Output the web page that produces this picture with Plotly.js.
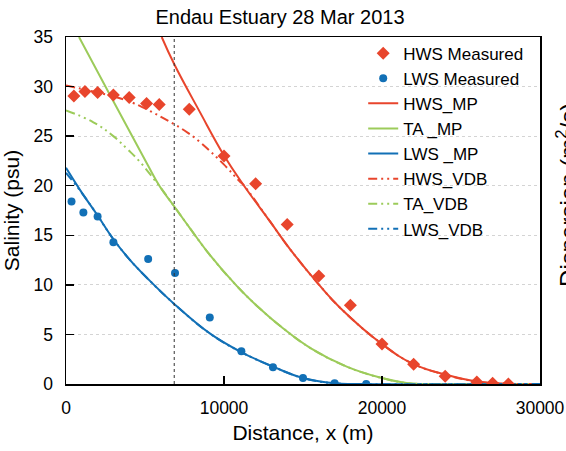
<!DOCTYPE html>
<html>
<head>
<meta charset="utf-8">
<script src="https://cdn.plot.ly/plotly-3.0.1.min.js"></script>
<style>html,body{margin:0;padding:0;background:#fff;}#chart{width:566px;height:451px;}</style>
</head>
<body>
<div id="chart"></div>
<script>
// ---- Data ----
const hwsMeasX = [500, 1200, 2000, 3000, 4000, 5100, 5900, 7800, 10000, 12000, 14000, 16000, 18000, 20000, 22000, 24000, 26000, 27000, 28000];
const hwsMeasY = [29.05, 29.5, 29.4, 29.15, 28.9, 28.3, 28.2, 27.7, 23.0, 20.2, 16.1, 10.9, 7.95, 4.03, 2.0, 0.77, 0.2, 0.07, 0.0];

const lwsMeasX = [350, 1100, 2000, 3000, 5200, 6900, 9100, 11100, 13100, 15000, 17000, 19000];
const lwsMeasY = [18.4, 17.3, 16.9, 14.3, 12.6, 11.2, 6.7, 3.3, 1.7, 0.6, 0.07, 0.0];

const hwsMpX = [6057, 6854, 8450, 10020, 11222, 12911, 14177, 16076, 17342, 20000, 22000, 24000, 26000, 28000, 30000];
const hwsMpY = [35, 32.25, 27.5, 23.0, 20.1, 16.4, 13.6, 9.9, 7.7, 4.03, 2.0, 0.95, 0.25, 0.02, 0];

const taMpX = [823, 2785, 5105, 5949, 6900, 7850, 9114, 10804, 12070, 13753, 15500, 17766, 19873, 21563, 23000, 30000];
const taMpY = [35, 29.15, 22.3, 19.9, 17.8, 15.7, 13.0, 9.9, 7.9, 5.6, 3.6, 1.75, 0.65, 0.1, 0, 0];

const lwsMpX = [0, 1000, 2000, 3000, 4000, 5250, 6900, 9100, 11050, 13100, 15000, 17000, 18500, 30000];
const lwsMpY = [21.8, 19.3, 17.0, 14.6, 12.6, 10.5, 8.0, 5.1, 3.25, 1.75, 0.6, 0.07, 0, 0];

const hwsVdbX = [0, 1730, 3840, 5105, 6854, 7741, 8481, 9956, 11013, 11222, 12911, 14177, 16076, 17342, 20000, 22000, 24000, 26000, 28000, 30000];
const hwsVdbY = [30.1, 29.5, 28.6, 27.7, 26.2, 25.3, 24.4, 22.2, 20.4, 20.1, 16.4, 13.6, 9.9, 7.7, 4.03, 2.0, 0.95, 0.25, 0.02, 0];

const taVdbX = [0, 1730, 2994, 3943, 4684, 5741, 5949, 6900, 7850, 9114, 10804, 12070, 13753, 15500, 17766, 19873, 21563, 23000, 30000];
const taVdbY = [27.6, 26.4, 25.0, 23.6, 22.4, 20.3, 19.9, 17.8, 15.7, 13.0, 9.9, 7.9, 5.6, 3.6, 1.75, 0.65, 0.1, 0, 0];

const lwsVdbX = [0, 800, 1700, 3000, 4000, 5250, 6900, 9100, 11050, 13100, 15000, 17000, 18500, 30000];
const lwsVdbY = [21.3, 19.7, 17.7, 14.6, 12.6, 10.5, 8.0, 5.1, 3.25, 1.75, 0.6, 0.07, 0, 0];

const markerLineX = 6850;   // vertical dashed reference line

const xTicks = [0, 10000, 20000, 30000];
const yTicks = [0, 5, 10, 15, 20, 25, 30, 35];

// ---- Styles ----
const RED = '#E8452C', GREEN = '#9CCB5A', BLUE = '#1270B6';
const FONT = 'Liberation Sans, Arial, Helvetica, sans-serif';
const DDD = '9px,4px,2px,4px,2px,4px';

function line(name, x, y, color, dash, rank) {
  return {x: x, y: y, name: name, type: 'scatter', mode: 'lines',
    line: {color: color, width: 2, dash: dash, shape: 'spline', smoothing: 1.2},
    legendrank: rank};
}

const traces = [
  line('HWS_MP', hwsMpX, hwsMpY, RED, 'solid', 3),
  line('TA _MP', taMpX, taMpY, GREEN, 'solid', 4),
  line('LWS _MP', lwsMpX, lwsMpY, BLUE, 'solid', 5),
  line('HWS_VDB', hwsVdbX, hwsVdbY, RED, DDD, 6),
  line('TA_VDB', taVdbX, taVdbY, GREEN, DDD, 7),
  line('LWS_VDB', lwsVdbX, lwsVdbY, BLUE, DDD, 8),
  {x: hwsMeasX, y: hwsMeasY, name: 'HWS Measured', type: 'scatter', mode: 'markers',
   marker: {symbol: 'diamond', size: 10, color: RED}, legendrank: 1},
  {x: lwsMeasX, y: lwsMeasY, name: 'LWS Measured', type: 'scatter', mode: 'markers',
   marker: {symbol: 'circle', size: 8, color: BLUE}, legendrank: 2}
];

const layout = {
  width: 566, height: 451,
  margin: {l: 66, r: 26, t: 37, b: 67},
  paper_bgcolor: '#fff', plot_bgcolor: '#fff',
  font: {family: FONT, color: '#000', size: 17},
  title: {text: 'Endau Estuary 28 Mar 2013', x: 0.4947, xanchor: 'center', xref: 'container',
          y: 0.962, yanchor: 'middle', yref: 'container', font: {size: 20, family: FONT, color: '#000'}},
  xaxis: {
    range: [0, 30000], tickvals: xTicks, tickformat: 'd',
    showgrid: false, zeroline: false,
    showline: true, linecolor: '#000', linewidth: 1.5, mirror: true,
    ticks: 'inside', ticklen: 8, tickwidth: 1.5, tickcolor: '#000',
    ticklabelstandoff: 7,
    tickfont: {size: 17.5},
    title: {text: 'Distance, x (m)', font: {size: 21}, standoff: 9},
    automargin: false
  },
  yaxis: {
    range: [0, 35], tickvals: yTicks,
    showgrid: true, gridcolor: '#d4d4d4', gridwidth: 1, griddash: '3px,3px',
    zeroline: false,
    showline: true, linecolor: '#000', linewidth: 1.5, mirror: true,
    ticks: 'inside', ticklen: 8, tickwidth: 1.5, tickcolor: '#000',
    ticklabelstandoff: 8,
    tickfont: {size: 17.5},
    title: {text: 'Salinity (psu)', font: {size: 21}, standoff: 8},
    automargin: false
  },
  legend: {
    x: 0.627, xanchor: 'left', y: 1.004, yanchor: 'top',
    bgcolor: 'rgba(0,0,0,0)', borderwidth: 0,
    font: {size: 17, family: FONT, color: '#000'},
    traceorder: 'normal'
  },
  shapes: [
    {type: 'rect', xref: 'paper', yref: 'paper', x0: 0.599, x1: 0.995, y0: 0.46, y1: 0.99,
     fillcolor: '#fff', line: {width: 0}, layer: 'between'},
    {type: 'line', xref: 'x', yref: 'y', x0: markerLineX, x1: markerLineX, y0: 0, y1: 35,
     line: {color: '#333', width: 1, dash: '3px,3px'}, layer: 'above'}
  ],
  annotations: [
    {text: 'Dispersion (m<sup>2</sup>/s)', xref: 'paper', yref: 'paper', x: 1.057, y: 0.545,
     xanchor: 'center', yanchor: 'middle', textangle: -90, showarrow: false,
     font: {size: 24, family: FONT, color: '#000'}}
  ],
  showlegend: true
};

Plotly.newPlot('chart', traces, layout, {displayModeBar: false, staticPlot: true});
</script>
</body>
</html>
